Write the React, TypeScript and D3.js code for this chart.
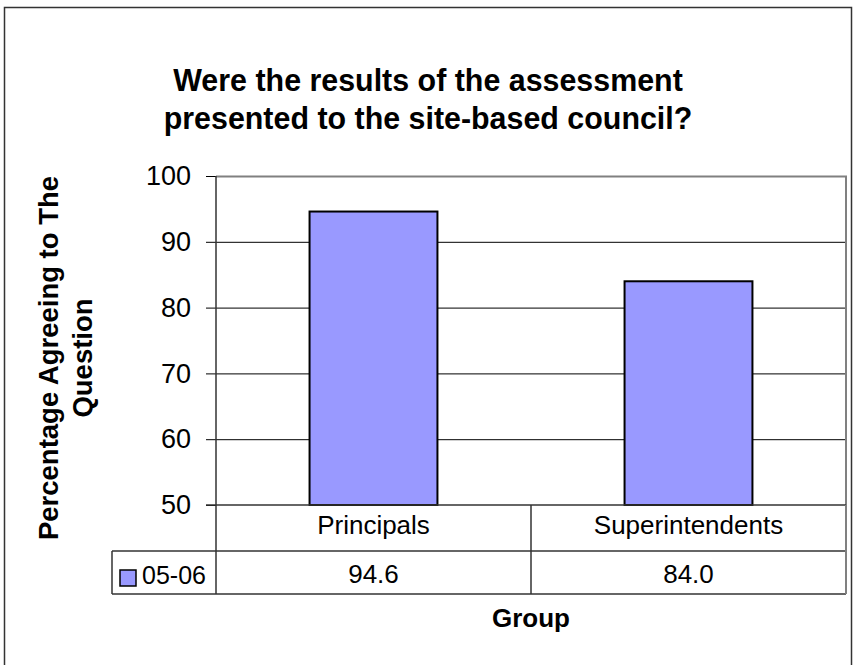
import { useEffect, useRef } from "react";
import * as d3 from "d3";

const titleLines = ["Were the results of the assessment", "presented to the site-based council?"];
const yTitleLines = ["Percentage Agreeing to The", "Question"];
const categories = ["Principals", "Superintendents"];
const seriesName = "05-06";
const values = [94.6, 84.0];
const yTicks = [50, 60, 70, 80, 90, 100];
const xTitle = "Group";

export default function App() {
  const ref = useRef<SVGSVGElement | null>(null);

  useEffect(() => {
    if (!ref.current) return;
    const svg = d3.select(ref.current);
    svg.selectAll("*").remove();

    const width = 855;
    const height = 665;
    const plot = { left: 216, right: 846, top: 176, bottom: 505 };
    const catRowBottom = 551;
    const tableBottom = 594;
    const tableLeft = 112;
    const font = "'Liberation Sans', Arial, sans-serif";

    svg.attr("width", width).attr("height", height);

    // outer chart border
    svg.append("rect")
      .attr("x", 4.5).attr("y", 7.5)
      .attr("width", 847).attr("height", 670)
      .attr("fill", "#fff")
      .attr("stroke", "#333")
      .attr("stroke-width", 1.5);

    // title (slightly condensed like the original)
    const title = svg.append("text")
      .attr("transform", "translate(428,0) scale(0.95,1)")
      .attr("text-anchor", "middle")
      .attr("font-family", font)
      .attr("font-weight", "bold")
      .attr("font-size", 32)
      .attr("fill", "#000");
    titleLines.forEach((t, i) => {
      title.append("tspan").attr("x", 0).attr("y", 91 + i * 38).text(t);
    });

    const y = d3.scaleLinear().domain([50, 100]).range([plot.bottom, plot.top]);
    const x = d3.scaleBand<string>()
      .domain(categories)
      .range([plot.left, plot.right])
      .paddingInner(0.594)
      .paddingOuter(0.297);
    const slot = d3.scaleBand<string>().domain(categories).range([plot.left, plot.right]);

    // gridlines
    svg.append("g")
      .selectAll("line")
      .data(yTicks.filter(d => d !== 50 && d !== 100))
      .enter()
      .append("line")
      .attr("x1", plot.left).attr("x2", plot.right)
      .attr("y1", d => y(d) + 0.5).attr("y2", d => y(d) + 0.5)
      .attr("stroke", "#000").attr("stroke-width", 1);

    // plot border (top / right gray)
    svg.append("path")
      .attr("d", `M${plot.left},${plot.top + 0.5}H${plot.right}V${plot.bottom}`)
      .attr("fill", "none")
      .attr("stroke", "#808080")
      .attr("stroke-width", 2);

    // bars
    svg.append("g")
      .selectAll("rect")
      .data(values)
      .enter()
      .append("rect")
      .attr("x", (d, i) => x(categories[i]) || 0)
      .attr("y", d => y(d))
      .attr("width", x.bandwidth())
      .attr("height", d => plot.bottom - y(d))
      .attr("fill", "#9999ff")
      .attr("stroke", "#000")
      .attr("stroke-width", 2);

    // y axis
    const yAxis = svg.append("g")
      .attr("transform", `translate(${plot.left},0)`)
      .call(d3.axisLeft(y).tickValues(yTicks).tickSize(10).tickPadding(15).tickFormat(d3.format("d")));
    yAxis.select(".domain").remove();
    yAxis.selectAll(".tick line").attr("stroke", "#000");
    yAxis.selectAll("text")
      .attr("font-family", font)
      .attr("font-size", 27)
      .attr("fill", "#000");

    // data table lines
    const lines = svg.append("g").attr("stroke", "#333").attr("stroke-width", 1.5).attr("fill", "none");
    lines.append("line").attr("x1", plot.left).attr("x2", plot.left).attr("y1", plot.top).attr("y2", tableBottom);
    lines.append("line").attr("x1", plot.left - 10).attr("x2", plot.right).attr("y1", plot.bottom).attr("y2", plot.bottom);
    lines.append("line").attr("x1", tableLeft).attr("x2", plot.right).attr("y1", catRowBottom).attr("y2", catRowBottom);
    lines.append("line").attr("x1", tableLeft).attr("x2", plot.right).attr("y1", tableBottom).attr("y2", tableBottom);
    lines.append("line").attr("x1", tableLeft).attr("x2", tableLeft).attr("y1", catRowBottom).attr("y2", tableBottom);
    categories.slice(1).forEach(c => {
      const xx = slot(c) || 0;
      lines.append("line").attr("x1", xx).attr("x2", xx).attr("y1", plot.bottom).attr("y2", tableBottom);
    });
    svg.append("line")
      .attr("x1", plot.right).attr("x2", plot.right)
      .attr("y1", plot.bottom).attr("y2", tableBottom)
      .attr("stroke", "#808080").attr("stroke-width", 2);

    // category labels and values
    svg.append("g")
      .selectAll("text")
      .data(categories)
      .enter()
      .append("text")
      .attr("x", d => (slot(d) || 0) + slot.bandwidth() / 2)
      .attr("y", 534)
      .attr("text-anchor", "middle")
      .attr("font-family", font)
      .attr("font-size", 26)
      .text(d => d);

    svg.append("g")
      .selectAll("text")
      .data(values)
      .enter()
      .append("text")
      .attr("x", (d, i) => (slot(categories[i]) || 0) + slot.bandwidth() / 2)
      .attr("y", 583)
      .attr("text-anchor", "middle")
      .attr("font-family", font)
      .attr("font-size", 26)
      .text(d => d.toFixed(1));

    // legend key in table
    svg.append("rect")
      .attr("x", 120).attr("y", 570)
      .attr("width", 16).attr("height", 16)
      .attr("fill", "#9999ff")
      .attr("stroke", "#000")
      .attr("stroke-width", 1.5);
    svg.append("text")
      .attr("x", 142).attr("y", 584)
      .attr("font-family", font)
      .attr("font-size", 25)
      .text(seriesName);

    // axis titles
    const yt = svg.append("text")
      .attr("transform", "translate(0,358) rotate(-90)")
      .attr("text-anchor", "middle")
      .attr("font-family", font)
      .attr("font-weight", "bold")
      .attr("font-size", 27.5);
    yTitleLines.forEach((t, i) => {
      yt.append("tspan").attr("x", 0).attr("y", 58 + i * 34).text(t);
    });

    svg.append("text")
      .attr("x", (plot.left + plot.right) / 2)
      .attr("y", 627)
      .attr("text-anchor", "middle")
      .attr("font-family", font)
      .attr("font-weight", "bold")
      .attr("font-size", 26)
      .text(xTitle);
  }, []);

  return (
    <svg ref={ref} style={{ position: "absolute", left: 0, top: 0, background: "#fff" }} />
  );
}
